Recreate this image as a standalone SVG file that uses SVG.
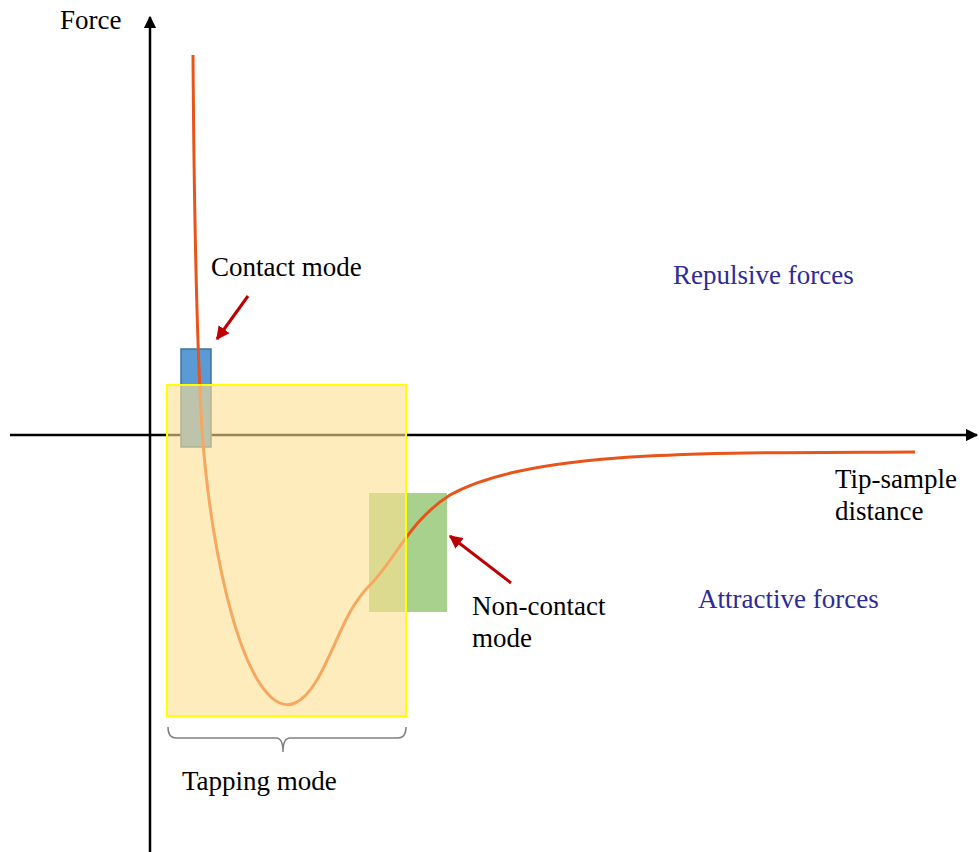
<svg xmlns="http://www.w3.org/2000/svg" width="979" height="852" viewBox="0 0 979 852">
  <style>
    .lbl { font-family: "Liberation Serif", "Times New Roman", serif; font-size: 27px; fill: #000; }
    .blu { font-family: "Liberation Serif", "Times New Roman", serif; font-size: 27px; fill: #2E2A9C; }
    .axis { stroke: #000; stroke-width: 2.5; fill: none; }
    .ptr { stroke: #C00000; stroke-width: 3; fill: none; }
  </style>
  <defs>
    <marker id="axhead" viewBox="0 0 10 10" refX="9" refY="5" markerWidth="5" markerHeight="5" orient="auto" markerUnits="strokeWidth">
      <path d="M0,0 L10,5 L0,10 z" fill="#000"/>
    </marker>
    <marker id="redhead" viewBox="0 0 10 10" refX="9" refY="5" markerWidth="4.5" markerHeight="4.5" orient="auto" markerUnits="strokeWidth">
      <path d="M0,0 L10,5 L0,10 z" fill="#C00000"/>
    </marker>
  </defs>
  <rect width="979" height="852" fill="#fff"/>

  <!-- axes -->
  <g id="axes">
    <line class="axis" x1="150" y1="852" x2="150" y2="17" marker-end="url(#axhead)"/>
    <line class="axis" x1="10" y1="435" x2="977" y2="435" marker-end="url(#axhead)"/>
  </g>

  <!-- contact-mode region -->
  <g id="contact-box">
    <rect x="181" y="349" width="30" height="98" fill="#5B9BD5" stroke="#41719C" stroke-width="1.5"/>
  </g>

  <!-- non-contact region -->
  <g id="noncontact-box">
    <rect x="369" y="493" width="78" height="119" fill="#A9D18E"/>
  </g>

  <!-- force curve -->
  <g id="force-curve">
    <path d="M193,55 C194,200 196,330 202,430 C210,540 235,665 272,698 C287,711 302,705 317,680 C337,645 345,610 370,585 C395,560 410,520 450,495 C530,450 700,453 915,452" fill="none" stroke="#E8541A" stroke-width="3"/>
  </g>

  <!-- tapping-mode region -->
  <g id="tapping-box">
    <rect x="167" y="385" width="239" height="331" fill="#FFE08F" fill-opacity="0.6" stroke="#FFFF00" stroke-width="2"/>
  </g>

  <!-- pointers and brace -->
  <g id="connectors">
    <line class="ptr" x1="248" y1="296" x2="217" y2="339" marker-end="url(#redhead)"/>
    <line class="ptr" x1="511" y1="583" x2="450" y2="536" marker-end="url(#redhead)"/>
    <path d="M168,727 Q168,738 176,738 L276,738 Q283,738 283,752 Q283,738 290,738 L398,738 Q406,738 406,727" fill="none" stroke="#808080" stroke-width="1.5"/>
  </g>

  <g id="labels">
    <text class="lbl" x="60" y="29">Force</text>
    <text class="lbl" x="211" y="276">Contact mode</text>
    <text class="blu" x="673" y="284">Repulsive forces</text>
    <text class="lbl" x="835" y="488">Tip-sample</text>
    <text class="lbl" x="835" y="520">distance</text>
    <text class="blu" x="698" y="608">Attractive forces</text>
    <text class="lbl" x="472" y="615">Non-contact</text>
    <text class="lbl" x="472" y="647">mode</text>
    <text class="lbl" x="182" y="790">Tapping mode</text>
  </g>
</svg>
